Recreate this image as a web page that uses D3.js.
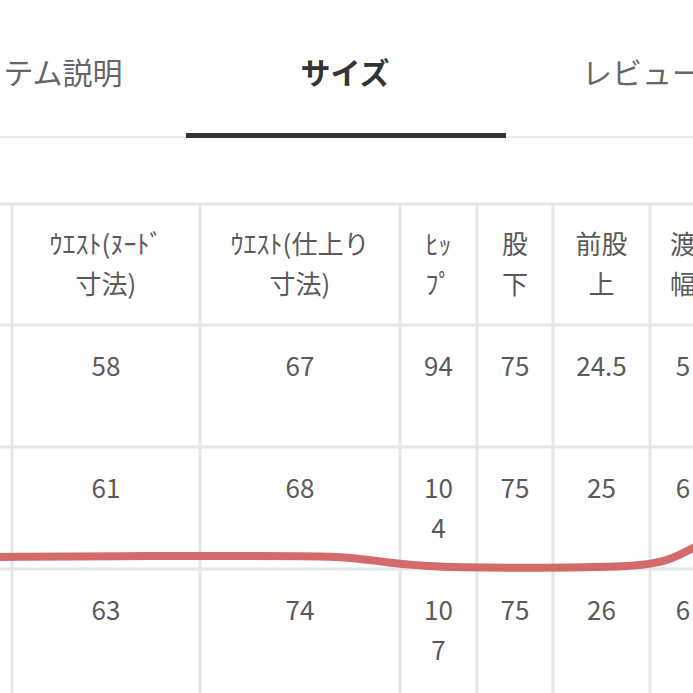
<!DOCTYPE html>
<html><head><meta charset="utf-8">
<script src="https://cdn.jsdelivr.net/npm/d3@7"></script>
<style>body{margin:0;background:#fff}svg{display:block}</style>
</head><body>
<svg id="c" width="693" height="693"></svg>
<script>
// tabs along the top
const tabs = ["アイテム説明", "サイズ", "レビュー"];
// table columns (header lines) and rows
const headers = [["ｳｴｽﾄ(ﾇｰﾄﾞ", "寸法)"], ["ｳｴｽﾄ(仕上り", "寸法)"], ["ﾋｯ", "ﾌﾟ"], ["股", "下"], ["前股", "上"], ["渡", "幅"]];
const rows = [
  [["58"], ["67"], ["94"], ["75"], ["24.5"], ["5"]],
  [["61"], ["68"], ["10", "4"], ["75"], ["25"], ["6"]],
  [["63"], ["74"], ["10", "7"], ["75"], ["26"], ["6"]]
];
// hand-drawn red stroke (x, y)
const strokeX = [0, 120, 250, 340, 370, 420, 520, 640, 670, 693];
const strokeY = [557, 556, 556, 556, 560, 567, 568, 567, 560, 548];

const svg = d3.select("#c");
const font = "'Noto Sans CJK JP', 'Noto Sans', sans-serif";

// tabs
const tabX = d3.scaleOrdinal().domain(tabs).range([34, 345, 642]);
svg.selectAll(".tab").data(tabs).enter().append("text")
  .attr("x", d => tabX(d)).attr("y", 84)
  .attr("text-anchor", "middle")
  .style("font-family", font).style("font-size", "30px")
  .style("font-weight", d => d === "サイズ" ? 700 : 400)
  .style("fill", d => d === "サイズ" ? "#333" : "#666")
  .text(d => d);
svg.append("rect").attr("x", 0).attr("y", 136).attr("width", 693).attr("height", 2).attr("fill", "#eaeaea");
svg.append("rect").attr("x", 186).attr("y", 133).attr("width", 320).attr("height", 5).attr("fill", "#333");

// table grid
const colEdges = [12, 200, 400, 477, 553, 650, 740];
const rowEdges = [204, 325, 447, 569, 700];
const grid = svg.append("g").attr("stroke", "#e6e6e6").attr("stroke-width", 3);
colEdges.forEach(x => grid.append("line").attr("x1", x).attr("x2", x).attr("y1", rowEdges[0]).attr("y2", 693));
rowEdges.forEach(y => grid.append("line").attr("x1", 0).attr("x2", 693).attr("y1", y).attr("y2", y));

const colMid = i => (colEdges[i] + colEdges[i + 1]) / 2 + (i === 5 ? -12 : 0);
function cell(lines, i, top) {
  lines.forEach((t, k) => svg.append("text")
    .attr("x", colMid(i)).attr("y", top + k * 40)
    .attr("text-anchor", "middle")
    .style("font-family", font).style("font-size", "26px").style("fill", "#5a5a5a")
    .text(t));
}
headers.forEach((h, i) => cell(h, i, 254));
rows.forEach((r, j) => r.forEach((c, i) => cell(c, i, rowEdges[j + 1] + 51)));

// red stroke
const pts = strokeX.map((x, i) => [x, strokeY[i]]);
svg.append("path").attr("d", d3.line().curve(d3.curveBasis)(pts))
  .attr("fill", "none").attr("stroke", "#d05a5a").attr("stroke-width", 8)
  .attr("stroke-linecap", "round").attr("opacity", 0.9);
</script>
</body></html>
